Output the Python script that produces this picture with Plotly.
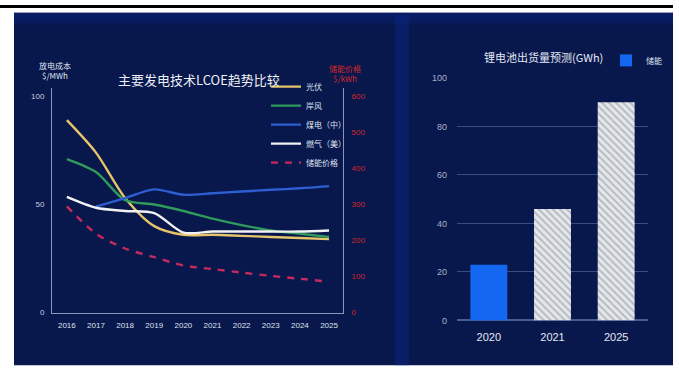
import plotly.graph_objects as go

years = [2016, 2017, 2018, 2019, 2020, 2021, 2022, 2023, 2024, 2025]
pv = [89, 74, 53, 40, 36, 36, 35.5, 35, 34.5, 34]
wind = [71, 65, 52, 50, 47, 43.5, 40.5, 38, 36.5, 35]
coal_years = [2017, 2018, 2019, 2020, 2021, 2022, 2023, 2024, 2025]
coal = [49, 53, 57, 54.5, 55.2, 56, 56.8, 57.5, 58.5]
gas = [53.5, 48.5, 47, 46, 37, 37.5, 37.5, 37.5, 37.5, 38]
storage_price = [295, 219, 178, 154, 131, 121, 111, 102, 94, 86]

bar_years = ["2020", "2021", "2025"]
shipments = [23, 46, 90]

left_ticks = [0, 50, 100]
right_ticks = [0, 100, 200, 300, 400, 500, 600]
bar_ticks = [0, 20, 40, 60, 80, 100]

W, H = 679, 378
FONT = "Liberation Sans, Noto Sans CJK SC, sans-serif"
CJK = "Noto Sans CJK SC, sans-serif"

def px_x(p):
    return p / W

def px_y(p):
    return 1 - p / H

fig = go.Figure()

line_w = 2.4
fig.add_trace(go.Scatter(x=years, y=pv, name="光伏", mode="lines",
                         line=dict(color="#e6c46a", width=line_w, shape="spline", smoothing=0.8),
                         xaxis="x", yaxis="y", legend="legend"))
fig.add_trace(go.Scatter(x=years, y=wind, name="岸风", mode="lines",
                         line=dict(color="#2f9a5c", width=line_w, shape="spline", smoothing=0.8),
                         xaxis="x", yaxis="y", legend="legend"))
fig.add_trace(go.Scatter(x=coal_years, y=coal, name="煤电（中）", mode="lines",
                         line=dict(color="#2d5fd2", width=line_w, shape="spline", smoothing=0.8),
                         xaxis="x", yaxis="y", legend="legend"))
fig.add_trace(go.Scatter(x=years, y=gas, name="燃气（美）", mode="lines",
                         line=dict(color="#f2f2f4", width=line_w, shape="spline", smoothing=0.8),
                         xaxis="x", yaxis="y", legend="legend"))
fig.add_trace(go.Scatter(x=years, y=storage_price, name="储能价格", mode="lines",
                         line=dict(color="#c42a5c", width=2.4, dash="7px,7px", shape="spline", smoothing=0.8),
                         xaxis="x", yaxis="y2", legend="legend"))

fig.add_trace(go.Bar(x=bar_years[:1], y=shipments[:1], name="储能",
                     marker=dict(color="#1467f0", line=dict(width=0)),
                     xaxis="x2", yaxis="y3", legend="legend2", width=0.58))
fig.add_trace(go.Bar(x=bar_years[1:], y=shipments[1:], name="预测", showlegend=False,
                     marker=dict(color="#e4e7ea", line=dict(width=0),
                                 pattern=dict(shape="\\", fgcolor="#838a94", bgcolor="#e4e7ea",
                                              size=5, solidity=0.35, fillmode="overlay")),
                     xaxis="x2", yaxis="y3", width=0.58))

axis_line = "#8c96bc"
fig.update_layout(
    width=W, height=H,
    margin=dict(l=0, r=0, t=0, b=0),
    paper_bgcolor="#ffffff",
    plot_bgcolor="rgba(0,0,0,0)",
    barmode="overlay",
    font=dict(family=FONT, color="#dfe3ee", size=9),
    xaxis=dict(domain=[px_x(52), px_x(343)], range=[2015.49, 2025.48],
               tickvals=years, ticktext=[str(y) for y in years],
               tickfont=dict(size=8, color="#dfe3ee"),
               showgrid=False, zeroline=False, showline=True, linecolor=axis_line, linewidth=1,
               ticks="", anchor="y", ticklabelstandoff=5),
    yaxis=dict(domain=[px_y(316), px_y(85)], range=[0, 104],
               tickvals=left_ticks, tickfont=dict(size=8, color="#c9cede"),
               showgrid=False, zeroline=False, showline=True, linecolor=axis_line, linewidth=1,
               ticks="", anchor="x", ticklabelstandoff=5),
    yaxis2=dict(overlaying="y", side="right", range=[0, 624],
                tickvals=right_ticks, tickfont=dict(size=8, color="#d42828"),
                showgrid=False, zeroline=False, showline=True, linecolor=axis_line, linewidth=1,
                ticks="", anchor="x", ticklabelstandoff=6),
    xaxis2=dict(domain=[px_x(457), px_x(648)], anchor="y3",
                tickfont=dict(size=11, color="#e4e8f2"), showgrid=False, zeroline=False,
                showline=False, ticks="", ticklabelstandoff=9),
    yaxis3=dict(domain=[px_y(324), px_y(75)], range=[0, 100], anchor="x2",
                tickvals=bar_ticks, tickfont=dict(size=9, color="#aab2c8"),
                showgrid=True, gridcolor="#3b4a82", gridwidth=1, zeroline=True,
                zerolinecolor="#4a5a92", zerolinewidth=1.5, showline=False, ticks="",
                ticklabelstandoff=9),
    legend=dict(x=px_x(266), y=px_y(69), xanchor="left", yanchor="top",
                bgcolor="rgba(0,0,0,0)", font=dict(family=CJK, size=8, color="#dfe3ee"),
                itemwidth=30, tracegroupgap=0, traceorder="normal"),
    legend2=dict(x=px_x(606), y=px_y(42), xanchor="left", yanchor="top",
                 bgcolor="rgba(0,0,0,0)", font=dict(family=CJK, size=8, color="#dfe3ee"),
                 itemwidth=30),
    showlegend=True,
)

shapes = [
    dict(type="rect", xref="paper", yref="paper", x0=0, x1=px_x(673), y0=px_y(3), y1=1,
         fillcolor="#000000", line=dict(width=0), layer="below"),
    dict(type="rect", xref="paper", yref="paper", x0=px_x(14), x1=px_x(673), y0=px_y(370), y1=px_y(8),
         fillcolor="#08174c", line=dict(width=0), layer="below"),
    dict(type="rect", xref="paper", yref="paper", x0=px_x(14), x1=px_x(673), y0=px_y(20), y1=px_y(8),
         fillcolor="#0c2272", line=dict(width=0), layer="below", opacity=0.45),
    dict(type="rect", xref="paper", yref="paper", x0=px_x(14), x1=px_x(673), y0=px_y(14), y1=px_y(8),
         fillcolor="#0c2272", line=dict(width=0), layer="below", opacity=0.45),
    dict(type="rect", xref="paper", yref="paper", x0=px_x(395), x1=px_x(409), y0=px_y(370), y1=px_y(10),
         fillcolor="#0b2788", line=dict(width=0), layer="below", opacity=0.45),
]
fig.update_layout(shapes=shapes)

annotations = [
    dict(text="主要发电技术LCOE趋势比较", x=px_x(199), y=px_y(77), xref="paper", yref="paper",
         showarrow=False, font=dict(family=CJK, size=13, color="#eef0f6"), xanchor="center", yanchor="middle"),
    dict(text="放电成本<br>$/MWh", x=px_x(55), y=px_y(67), xref="paper", yref="paper",
         showarrow=False, font=dict(family=CJK, size=8, color="#dfe3ee"), xanchor="center", yanchor="middle"),
    dict(text="储能价格<br>$/kWh", x=px_x(345), y=px_y(70), xref="paper", yref="paper",
         showarrow=False, font=dict(family=CJK, size=8, color="#d42828"), xanchor="center", yanchor="middle"),
    dict(text="锂电池出货量预测(GWh)", x=px_x(543), y=px_y(53), xref="paper", yref="paper",
         showarrow=False, font=dict(family=CJK, size=11, color="#e4e8f2"), xanchor="center", yanchor="middle"),
]
fig.update_layout(annotations=annotations)

fig.write_html("out.html")
